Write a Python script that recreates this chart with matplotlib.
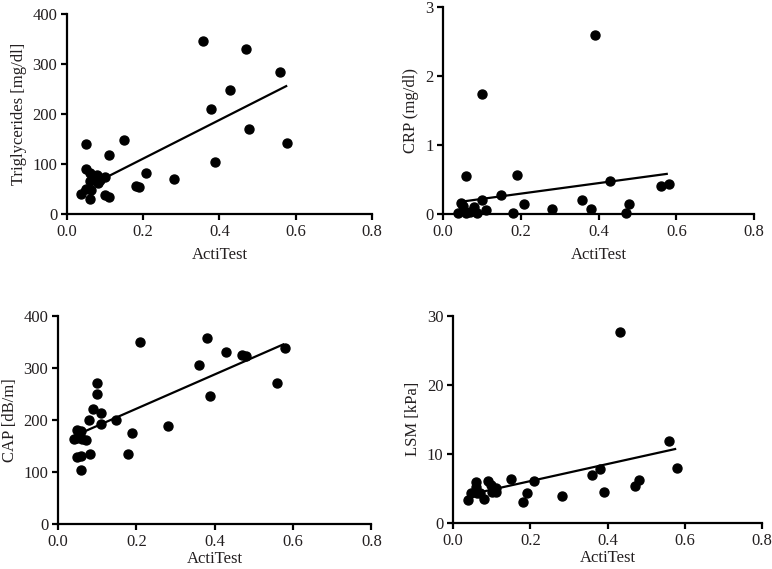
import numpy as np
import matplotlib
matplotlib.use("Agg")
import matplotlib.pyplot as plt

plt.rcParams['font.family'] = ['Liberation Serif', 'DejaVu Serif']

# ActiTest vs triglycerides
tg_x = [0.038, 0.049, 0.049, 0.05, 0.06, 0.06, 0.06, 0.062, 0.079, 0.08, 0.087, 0.1, 0.099,
        0.11, 0.111, 0.149, 0.18, 0.19, 0.208, 0.28, 0.357, 0.379, 0.389, 0.428, 0.469,
        0.478, 0.558, 0.578]
tg_y = [39, 140, 91, 50, 83, 30, 65, 48, 77, 61, 68, 73, 38,
        118, 33, 148, 55, 53, 83, 69, 346, 210, 105, 248, 331,
        171, 284, 143]
tg_fit_x = [0.04, 0.575]
tg_fit_y = [49, 256]

# ActiTest vs CRP
crp_x = [0.039, 0.047, 0.05, 0.06, 0.06, 0.069, 0.08, 0.088, 0.1, 0.1, 0.11, 0.149, 0.18,
         0.189, 0.208, 0.28, 0.358, 0.38, 0.39, 0.429, 0.469, 0.479, 0.559, 0.58]
crp_y = [0.01, 0.16, 0.12, 0.55, 0.01, 0.03, 0.1, 0.01, 0.2, 1.74, 0.05, 0.27, 0.01,
         0.56, 0.15, 0.07, 0.2, 0.07, 2.59, 0.48, 0.01, 0.15, 0.4, 0.43]
crp_fit_x = [0.05, 0.575]
crp_fit_y = [0.18, 0.58]

# ActiTest vs CAP
cap_x = [0.04, 0.049, 0.049, 0.06, 0.06, 0.06, 0.062, 0.071, 0.079, 0.081, 0.09, 0.1, 0.1,
         0.109, 0.111, 0.149, 0.179, 0.19, 0.209, 0.28, 0.359, 0.38, 0.389, 0.43, 0.469,
         0.481, 0.559, 0.579, 0.05]
cap_y = [163, 181, 129, 178, 104, 130, 163, 162, 200, 134, 221, 271, 250,
         214, 193, 199, 134, 175, 350, 188, 305, 358, 245, 330, 325,
         322, 271, 338, 165]
cap_fit_x = [0.05, 0.575]
cap_fit_y = [172, 345]

# ActiTest vs LSM
lsm_x = [0.039, 0.047, 0.06, 0.06, 0.062, 0.07, 0.081, 0.09, 0.099, 0.1, 0.112, 0.11, 0.15,
         0.18, 0.19, 0.21, 0.282, 0.359, 0.381, 0.39, 0.431, 0.471, 0.481, 0.56, 0.58]
lsm_y = [3.3, 4.3, 5.9, 5.2, 4.3, 4.3, 3.5, 6.0, 5.5, 4.5, 4.5, 5.0, 6.3,
         3.0, 4.3, 6.1, 3.9, 7.0, 7.8, 4.5, 27.7, 5.3, 6.2, 11.9, 8.0]
lsm_fit_x = [0.05, 0.575]
lsm_fit_y = [4.2, 10.7]

panels = [
    (tg_x, tg_y, tg_fit_x, tg_fit_y, 'Triglycerides [mg/dl]', [0, 100, 200, 300, 400],
     [0.0868, 0.624, 0.395, 0.351], 5),
    (crp_x, crp_y, crp_fit_x, crp_fit_y, 'CRP (mg/dl)', [0, 1, 2, 3],
     [0.574, 0.624, 0.403, 0.364], 5),
    (cap_x, cap_y, cap_fit_x, cap_fit_y, 'CAP [dB/m]', [0, 100, 200, 300, 400],
     [0.075, 0.079, 0.406, 0.366], 1),
    (lsm_x, lsm_y, lsm_fit_x, lsm_fit_y, 'LSM [kPa]', [0, 10, 20, 30],
     [0.587, 0.081, 0.400, 0.364], 1),
]

txt = '#231f20'
fig = plt.figure(figsize=(7.72, 5.69), dpi=100)
for x, y, fx, fy, ylab, yt, pos, xpad in panels:
    ax = fig.add_axes(pos)
    ax.scatter(x, y, s=42, color='black', zorder=3, clip_on=False)
    ax.plot(fx, fy, color='black', lw=1.6, zorder=2)
    ax.set_xlim(0, 0.8)
    ax.set_ylim(yt[0], yt[-1])
    ax.set_xticks([0.0, 0.2, 0.4, 0.6, 0.8])
    ax.set_xticklabels(['0.0', '0.2', '0.4', '0.6', '0.8'])
    ax.set_yticks(yt)
    ax.set_xlabel('ActiTest', fontsize=12, color=txt, labelpad=xpad)
    ax.set_ylabel(ylab, fontsize=12, color=txt, labelpad=4)
    for s in ['top', 'right']:
        ax.spines[s].set_visible(False)
    for s in ['left', 'bottom']:
        ax.spines[s].set_linewidth(1.6)
    ax.tick_params(width=1.6, length=4, labelsize=12, labelcolor=txt, pad=3)

fig.savefig('out.png', dpi=100)
